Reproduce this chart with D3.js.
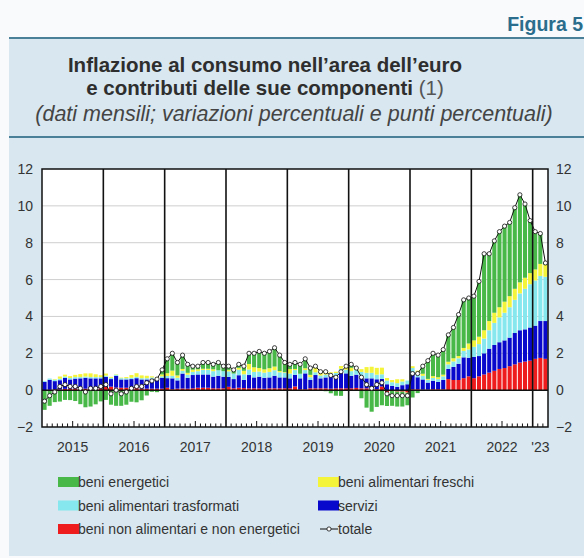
<!DOCTYPE html>
<html lang="it">
<head>
	<meta charset="utf-8">
	<title>Figura 5</title>
	<script src="https://cdnjs.cloudflare.com/ajax/libs/d3/7.8.5/d3.min.js"></script>
	<style>
	body {
		margin: 0;
		background-color: #f8fafb;
	}
	svg {
		display: block;
		font-family: "Liberation Sans", Arial, sans-serif;
	}
	</style>
</head>
<body>
<svg id="chart" width="584" height="558"></svg>
<script>
// etichette degli anni sull'asse x
var anni = ["2015", "2016", "2017", "2018", "2019", "2020", "2021", "2022", "'23"];
var yTicks = [-2, 0, 2, 4, 6, 8, 10, 12];

// contributi mensili (punti percentuali), gen 2015 - mar 2023
var energetici = [
	-1.05,-0.85,-0.65,-0.62,-0.53,-0.54,-0.59,-0.76,-0.93,-0.89,-0.77,-0.61,
	-0.53,-0.79,-0.85,-0.85,-0.79,-0.63,-0.66,-0.55,-0.29,-0.09,-0.11,0.25,
	0.79,0.91,0.72,0.74,0.44,0.19,0.21,0.39,0.38,0.29,0.46,0.28,
	0.21,0.20,0.19,0.25,0.58,0.76,0.90,0.87,0.90,1.02,0.86,0.52,
	0.26,0.35,0.51,0.51,0.37,0.10,0.05,-0.06,-0.17,-0.30,-0.31,0.02,
	0.19,-0.03,-0.44,-0.95,-1.17,-0.91,-0.82,-0.76,-0.80,-0.81,-0.81,-0.67,
	-0.40,-0.16,0.41,0.99,1.24,1.20,1.36,1.46,1.67,2.25,2.61,2.47,
	2.40,3.00,4.15,3.65,3.90,4.10,4.10,4.00,4.40,4.75,4.00,2.85,
	2.05,1.65,0.10
];
var servizi = [
	0.45,0.54,0.45,0.50,0.59,0.50,0.54,0.54,0.59,0.54,0.54,0.54,
	0.54,0.41,0.63,0.45,0.45,0.50,0.54,0.50,0.50,0.54,0.50,0.59,
	0.52,0.59,0.45,0.81,0.59,0.72,0.72,0.72,0.72,0.63,0.68,0.63,
	0.54,0.50,0.68,0.45,0.72,0.59,0.63,0.59,0.59,0.68,0.59,0.59,
	0.54,0.63,0.59,0.86,0.45,0.72,0.54,0.59,0.68,0.68,0.86,0.81,
	0.68,0.72,0.59,0.54,0.59,0.54,0.41,0.32,0.23,0.18,0.27,0.32,
	0.90,0.65,0.55,0.38,0.46,0.40,0.50,0.55,0.71,0.88,1.13,1.01,
	1.15,1.10,1.15,1.30,1.40,1.45,1.50,1.55,1.70,1.75,1.75,1.80,
	1.80,2.00,2.05
];
var nonAlimentari = [
	0.00,0.02,0.04,0.04,0.07,0.08,0.09,0.10,0.08,0.10,0.10,0.10,
	0.18,0.19,0.14,0.13,0.13,0.10,0.11,0.08,0.08,0.08,0.08,0.08,
	0.13,0.05,0.08,0.09,0.08,0.10,0.13,0.13,0.13,0.10,0.10,0.10,
	0.18,0.10,0.13,0.11,0.10,0.10,0.10,0.08,0.10,0.10,0.10,0.10,
	0.10,0.20,0.05,0.05,0.10,0.10,0.10,0.10,0.08,0.10,0.10,0.10,
	0.10,0.12,0.10,0.10,0.05,0.05,0.20,-0.10,-0.05,-0.08,-0.08,-0.13,
	0.05,0.05,0.03,0.03,0.05,0.05,0.05,0.60,0.55,0.55,0.65,0.75,
	0.65,0.75,0.85,0.95,1.05,1.15,1.20,1.30,1.40,1.50,1.55,1.60,
	1.70,1.75,1.70
];
var trasformati = [
	0.05,0.07,0.08,0.08,0.08,0.08,0.08,0.07,0.07,0.07,0.07,0.07,
	0.07,0.07,0.07,0.07,0.07,0.07,0.07,0.07,0.07,0.07,0.08,0.08,
	0.12,0.14,0.14,0.15,0.17,0.17,0.18,0.25,0.25,0.30,0.30,0.30,
	0.30,0.30,0.30,0.30,0.30,0.30,0.28,0.28,0.30,0.30,0.28,0.26,
	0.26,0.26,0.25,0.18,0.15,0.15,0.15,0.15,0.15,0.15,0.20,0.20,
	0.25,0.25,0.30,0.30,0.30,0.25,0.25,0.20,0.20,0.20,0.20,0.20,
	0.25,0.25,0.20,0.15,0.15,0.15,0.20,0.25,0.30,0.30,0.35,0.45,
	0.55,0.65,0.80,1.00,1.20,1.35,1.50,1.65,1.80,2.00,2.20,2.35,
	2.45,2.45,2.40
];
var freschi = [
	-0.02,0.00,0.03,0.12,0.10,0.10,0.12,0.16,0.17,0.20,0.15,0.10,
	0.11,0.05,0.02,0.03,0.06,0.15,0.20,0.15,0.13,0.06,0.05,0.10,
	0.15,0.28,0.13,0.10,0.10,0.12,0.10,0.06,0.06,0.10,0.00,0.00,
	0.08,0.00,0.10,0.19,0.30,0.25,0.19,0.18,0.20,0.20,0.07,0.03,
	0.24,0.06,0.00,0.10,0.13,0.23,0.16,0.22,0.06,0.07,0.15,0.17,
	0.18,0.14,0.15,0.31,0.33,0.37,0.36,0.14,0.12,0.21,0.12,-0.02,
	0.10,0.11,0.11,0.05,0.10,0.10,0.09,0.14,0.17,0.12,0.16,0.32,
	0.35,0.40,0.45,0.50,0.55,0.55,0.60,0.60,0.60,0.60,0.60,0.60,
	0.60,0.65,0.65
];
var totale = [
	-0.6,-0.3,-0.1,0.2,0.3,0.2,0.2,0.1,-0.1,0.1,0.1,0.2,
	0.3,-0.2,0.0,-0.2,-0.1,0.1,0.2,0.2,0.4,0.5,0.6,1.1,
	1.7,2.0,1.5,1.9,1.4,1.3,1.3,1.5,1.5,1.4,1.5,1.3,
	1.3,1.1,1.4,1.3,2.0,2.0,2.1,2.0,2.1,2.3,1.9,1.5,
	1.4,1.5,1.4,1.7,1.2,1.3,1.0,1.0,0.8,0.7,1.0,1.3,
	1.4,1.2,0.7,0.3,0.1,0.3,0.4,-0.2,-0.3,-0.3,-0.3,-0.3,
	0.9,0.9,1.3,1.6,2.0,1.9,2.2,3.0,3.4,4.1,4.9,5.0,
	5.1,5.9,7.4,7.4,8.1,8.6,8.9,9.1,9.9,10.6,10.1,9.2,
	8.6,8.5,6.9
];

var serie = [
	{key: "nonAlimentari", label: "beni non alimentari e non energetici", color: "#ee1c1c"},
	{key: "servizi", label: "servizi", color: "#0808cc"},
	{key: "trasformati", label: "beni alimentari trasformati", color: "#86e8ee"},
	{key: "freschi", label: "beni alimentari freschi", color: "#f4f43a"},
	{key: "energetici", label: "beni energetici", color: "#48b848"}
];
var colore = {};
serie.forEach(function(s) { colore[s.key] = s.color; });

var rows = totale.map(function(t, i) {
	return {
		i: i,
		energetici: energetici[i],
		servizi: servizi[i],
		nonAlimentari: nonAlimentari[i],
		trasformati: trasformati[i],
		freschi: freschi[i],
		totale: t
	};
});
var nMesi = rows.length;

var svg = d3.select("#chart");
var W = 584, H = 558;

// riquadro di sfondo
svg.append("rect").attr("x", 9).attr("y", 38).attr("width", W - 9).attr("height", H - 38 - 2).attr("fill", "#d8e7f0");
svg.append("line").attr("x1", 9).attr("x2", W).attr("y1", 38).attr("y2", 38).attr("stroke", "#4b8198").attr("stroke-width", 2);
svg.append("line").attr("x1", 9).attr("x2", W).attr("y1", 137).attr("y2", 137).attr("stroke", "#4b8198").attr("stroke-width", 2);

svg.append("text").attr("x", 583).attr("y", 31).attr("text-anchor", "end")
	.attr("font-size", 19.5).attr("font-weight", "bold").attr("fill", "#2a6d8c").text("Figura 5");

svg.append("text").attr("x", 265).attr("y", 72).attr("text-anchor", "middle")
	.attr("font-size", 20.5).attr("font-weight", "bold").attr("fill", "#2e2e2e")
	.text("Inflazione al consumo nell\u2019area dell\u2019euro");
var t2 = svg.append("text").attr("x", 265).attr("y", 95).attr("text-anchor", "middle")
	.attr("font-size", 20.5).attr("fill", "#2e2e2e");
t2.append("tspan").attr("font-weight", "bold").text("e contributi delle sue componenti ");
t2.append("tspan").attr("fill", "#555").text("(1)");
svg.append("text").attr("x", 294).attr("y", 121).attr("text-anchor", "middle")
	.attr("font-size", 21.5).attr("font-style", "italic").attr("fill", "#444")
	.text("(dati mensili; variazioni percentuali e punti percentuali)");

// area del grafico
var L = 42, R = 548, T = 169, B = 427;
var y = d3.scaleLinear().domain([-2, 12]).range([B, T]);
var xl = d3.scaleLinear().domain([0, nMesi]).range([L, R]);
var xb = d3.scaleBand().domain(d3.range(nMesi)).range([L, R]).paddingInner(0.2).paddingOuter(0.1);

svg.append("rect").attr("x", L).attr("y", T).attr("width", R - L).attr("height", B - T).attr("fill", "#fff");

svg.append("g").selectAll("line").data(yTicks.filter(function(v) { return v > -2 && v < 12 && v !== 0; }))
	.join("line")
	.attr("x1", L).attr("x2", R)
	.attr("y1", function(d) { return y(d); }).attr("y2", function(d) { return y(d); })
	.attr("stroke", "#cfcfcf").attr("stroke-width", 1);

var stack = d3.stack().keys(serie.map(function(s) { return s.key; })).offset(d3.stackOffsetDiverging);
var layers = stack(rows);

svg.append("g").selectAll("g").data(layers).join("g")
	.attr("fill", function(d) { return colore[d.key]; })
	.selectAll("rect").data(function(d) { return d; }).join("rect")
	.attr("x", function(d) { return xb(d.data.i); })
	.attr("width", xb.bandwidth())
	.attr("y", function(d) { return y(Math.max(d[0], d[1])); })
	.attr("height", function(d) { return Math.abs(y(d[0]) - y(d[1])); });

// linee verticali degli anni
var confini = d3.range(12, nMesi, 12);
svg.append("g").selectAll("line").data(confini).join("line")
	.attr("x1", function(d) { return xl(d); }).attr("x2", function(d) { return xl(d); })
	.attr("y1", T).attr("y2", B)
	.attr("stroke", "#111").attr("stroke-width", 1.6);

// tacche mensili
var mesi = d3.range(1, nMesi).filter(function(m) { return m % 12 !== 0; });
svg.append("g").selectAll("line").data(mesi).join("line")
	.attr("x1", function(d) { return xl(d); }).attr("x2", function(d) { return xl(d); })
	.attr("y1", B).attr("y2", function(d) { return d % 12 === 6 ? B - 6 : B - 3.5; })
	.attr("stroke", "#111").attr("stroke-width", 1);

svg.append("line").attr("x1", L).attr("x2", R).attr("y1", y(0)).attr("y2", y(0))
	.attr("stroke", "#111").attr("stroke-width", 1.5);

svg.append("rect").attr("x", L).attr("y", T).attr("width", R - L).attr("height", B - T)
	.attr("fill", "none").attr("stroke", "#111").attr("stroke-width", 1.5);

// linea del totale
var linea = d3.line()
	.x(function(d) { return xb(d.i) + xb.bandwidth() / 2; })
	.y(function(d) { return y(d.totale); });
svg.append("path").datum(rows).attr("d", linea)
	.attr("fill", "none").attr("stroke", "#111").attr("stroke-width", 1);
svg.append("g").selectAll("circle").data(rows).join("circle")
	.attr("cx", function(d) { return xb(d.i) + xb.bandwidth() / 2; })
	.attr("cy", function(d) { return y(d.totale); })
	.attr("r", 2.1)
	.attr("fill", "#fff").attr("stroke", "#111").attr("stroke-width", 0.8);

// assi
var yLeft = d3.axisLeft(y).tickValues(yTicks).tickSize(0).tickPadding(9);
var yRight = d3.axisRight(y).tickValues(yTicks).tickSize(0).tickPadding(8);
var gl = svg.append("g").attr("transform", "translate(" + L + ",0)").call(yLeft);
var gr = svg.append("g").attr("transform", "translate(" + R + ",0)").call(yRight);
[gl, gr].forEach(function(g) {
	g.select(".domain").remove();
	g.selectAll("text").attr("font-size", 14).attr("fill", "#333").attr("font-family", "Liberation Sans, Arial, sans-serif");
});

svg.append("g").selectAll("text").data(anni).join("text")
	.attr("x", function(d, k) { return (xl(k * 12) + xl(Math.min((k + 1) * 12, nMesi))) / 2; })
	.attr("y", 452)
	.attr("text-anchor", "middle").attr("font-size", 14).attr("fill", "#333")
	.text(function(d) { return d; });

// legenda
var legenda = [
	{key: "energetici", col: 0, row: 0},
	{key: "trasformati", col: 0, row: 1},
	{key: "nonAlimentari", col: 0, row: 2},
	{key: "freschi", col: 1, row: 0},
	{key: "servizi", col: 1, row: 1},
	{key: "totale", col: 1, row: 2}
];
var lg = svg.append("g").selectAll("g").data(legenda).join("g")
	.attr("transform", function(d) { return "translate(" + (d.col ? 318 : 58) + "," + (482 + d.row * 23.5) + ")"; });
lg.filter(function(d) { return d.key !== "totale"; }).append("rect")
	.attr("x", 0).attr("y", -5).attr("width", 21).attr("height", 10)
	.attr("fill", function(d) { return colore[d.key]; });
var lt = lg.filter(function(d) { return d.key === "totale"; });
lt.append("line").attr("x1", 2).attr("x2", 20).attr("y1", 0).attr("y2", 0).attr("stroke", "#111").attr("stroke-width", 1);
lt.append("circle").attr("cx", 11).attr("cy", 0).attr("r", 2.1).attr("fill", "#fff").attr("stroke", "#111").attr("stroke-width", 0.8);
lg.append("text").attr("x", 20).attr("y", 5).attr("font-size", 14).attr("fill", "#333")
	.text(function(d) {
		if (d.key === "totale") return "totale";
		return serie.filter(function(s) { return s.key === d.key; })[0].label;
	});
</script>
</body>
</html>
